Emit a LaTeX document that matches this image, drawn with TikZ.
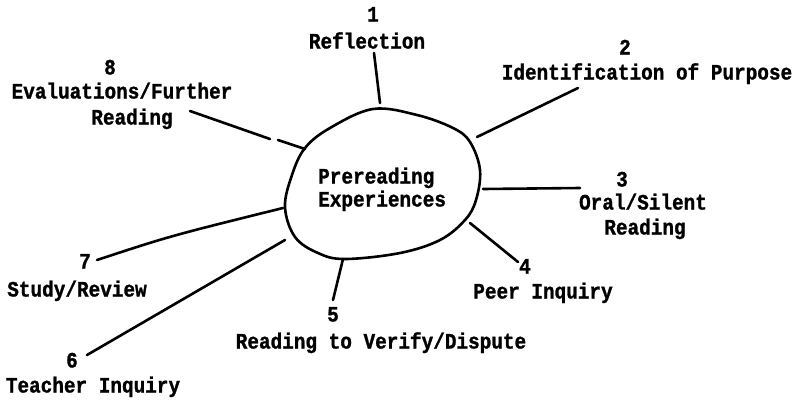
\documentclass[tikz,border=0pt]{standalone}
\usepackage{fontspec}
\newfontfamily\tw[FakeStretch=0.88,FakeBold=1.2]{Liberation Mono}
\begin{document}
\begin{tikzpicture}[x=1pt,y=-1pt,
  font={\tw\bfseries\fontsize{22pt}{25pt}\selectfont},
  lbl/.style={inner sep=0pt,text height=13pt,text depth=0pt,anchor=center},
  ln/.style={line width=2.6pt,line cap=round,line join=round}]
\useasboundingbox (0,0) rectangle (805,399);
% central blob
\draw[ln] plot[smooth cycle,tension=0.6] coordinates {
 (373,109) (417,115) (453,128) (470,142) (480,170) (476,200) (465,220)
 (440,240) (400,253) (345,259) (318,253) (295,237) (285,207) (292,175)
 (305,148) (330,128)};
\node[lbl,anchor=west] (core1) at (318,177) {Prereading};
\node[lbl,anchor=west] (core2) at (318,200) {Experiences};
% labels
\node[lbl] (num1) at (373,15) {1};
\node[lbl] (lab1) at (367,42) {Reflection};
\node[lbl] (num2) at (625,48) {2};
\node[lbl] (lab2) at (647,73) {Identification of Purpose};
\node[lbl] (num3) at (622,180) {3};
\node[lbl] (lab3a) at (643,203) {Oral/Silent};
\node[lbl] (lab3b) at (645,228) {Reading};
\node[lbl] (num4) at (525,267) {4};
\node[lbl] (lab4) at (543,292) {Peer Inquiry};
\node[lbl] (num5) at (333,315) {5};
\node[lbl] (lab5) at (381,342) {Reading to Verify/Dispute};
\node[lbl] (num6) at (72,361) {6};
\node[lbl] (lab6) at (93,386) {Teacher Inquiry};
\node[lbl] (num7) at (85,262) {7};
\node[lbl] (lab7) at (77,290) {Study/Review};
\node[lbl] (num8) at (110,68) {8};
\node[lbl] (lab8a) at (122,92) {Evaluations/Further};
\node[lbl] (lab8b) at (132,118) {Reading};
% connector ends
\coordinate (t1) at (374,53);  \coordinate (s1) at (380,103);
\coordinate (t2) at (578,88);  \coordinate (s2) at (477,137);
\coordinate (t3) at (580,188); \coordinate (s3) at (483,189);
\coordinate (t4) at (518,262); \coordinate (s4) at (470,223);
\coordinate (t5) at (333,300); \coordinate (s5) at (343,259);
\coordinate (t6) at (87,355);  \coordinate (s6) at (285,240);
\coordinate (t7) at (97,260);  \coordinate (s7) at (283,208);
\coordinate (t8) at (190,111); \coordinate (m8a) at (270,139);
\coordinate (m8b) at (278,140); \coordinate (s8) at (305,149);
\draw[ln] (t1) -- (s1);
\draw[ln] (t2) -- (s2);
\draw[ln] (t3) -- (s3);
\draw[ln] (t4) -- (s4);
\draw[ln] (t5) -- (s5);
\draw[ln] (t6) -- (s6);
\draw[ln] (t7) .. controls (170,236) .. (s7);
\draw[ln] (t8) -- (m8a);
\draw[ln] (m8b) -- (s8);
\end{tikzpicture}
\end{document}
